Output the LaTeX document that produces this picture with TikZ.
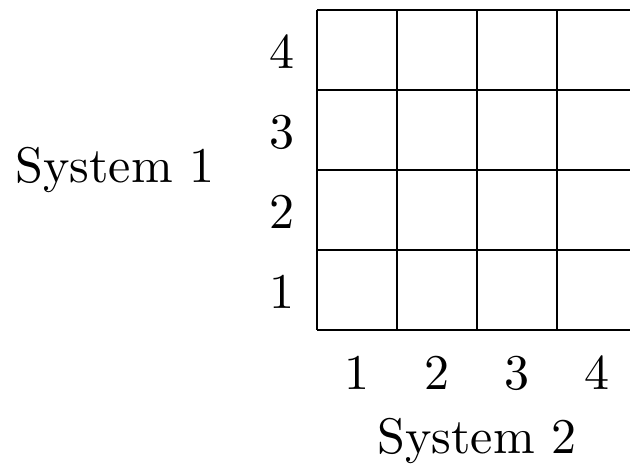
\documentclass[tikz,border=0pt]{standalone}
\begin{document}
\begin{tikzpicture}[x=0.2pt,y=-0.2pt,lbl/.style={inner sep=0pt,anchor=center},gridline/.style={line width=0.4pt}]
\useasboundingbox (0,0) rectangle (630,473);
\clip (0,0) rectangle (630,473);
\foreach \x in {317,397,477,557,637} \draw[gridline] (\x,10) -- (\x,330);
\foreach \y in {10,90,170,250,330} \draw[gridline] (317,\y) -- (637,\y);
\node[lbl] (r4) at (282,52) {4};
\node[lbl] (r3) at (282,132) {3};
\node[lbl] (r2) at (282,212) {2};
\node[lbl] (r1) at (282,292) {1};
\node[lbl] (c1) at (357,373) {1};
\node[lbl] (c2) at (437,373) {2};
\node[lbl] (c3) at (517,373) {3};
\node[lbl] (c4) at (597,373) {4};
\node[lbl] (s1) at (115,170) {System 1};
\node[lbl] (s2) at (477,441) {System 2};
\end{tikzpicture}
\end{document}
